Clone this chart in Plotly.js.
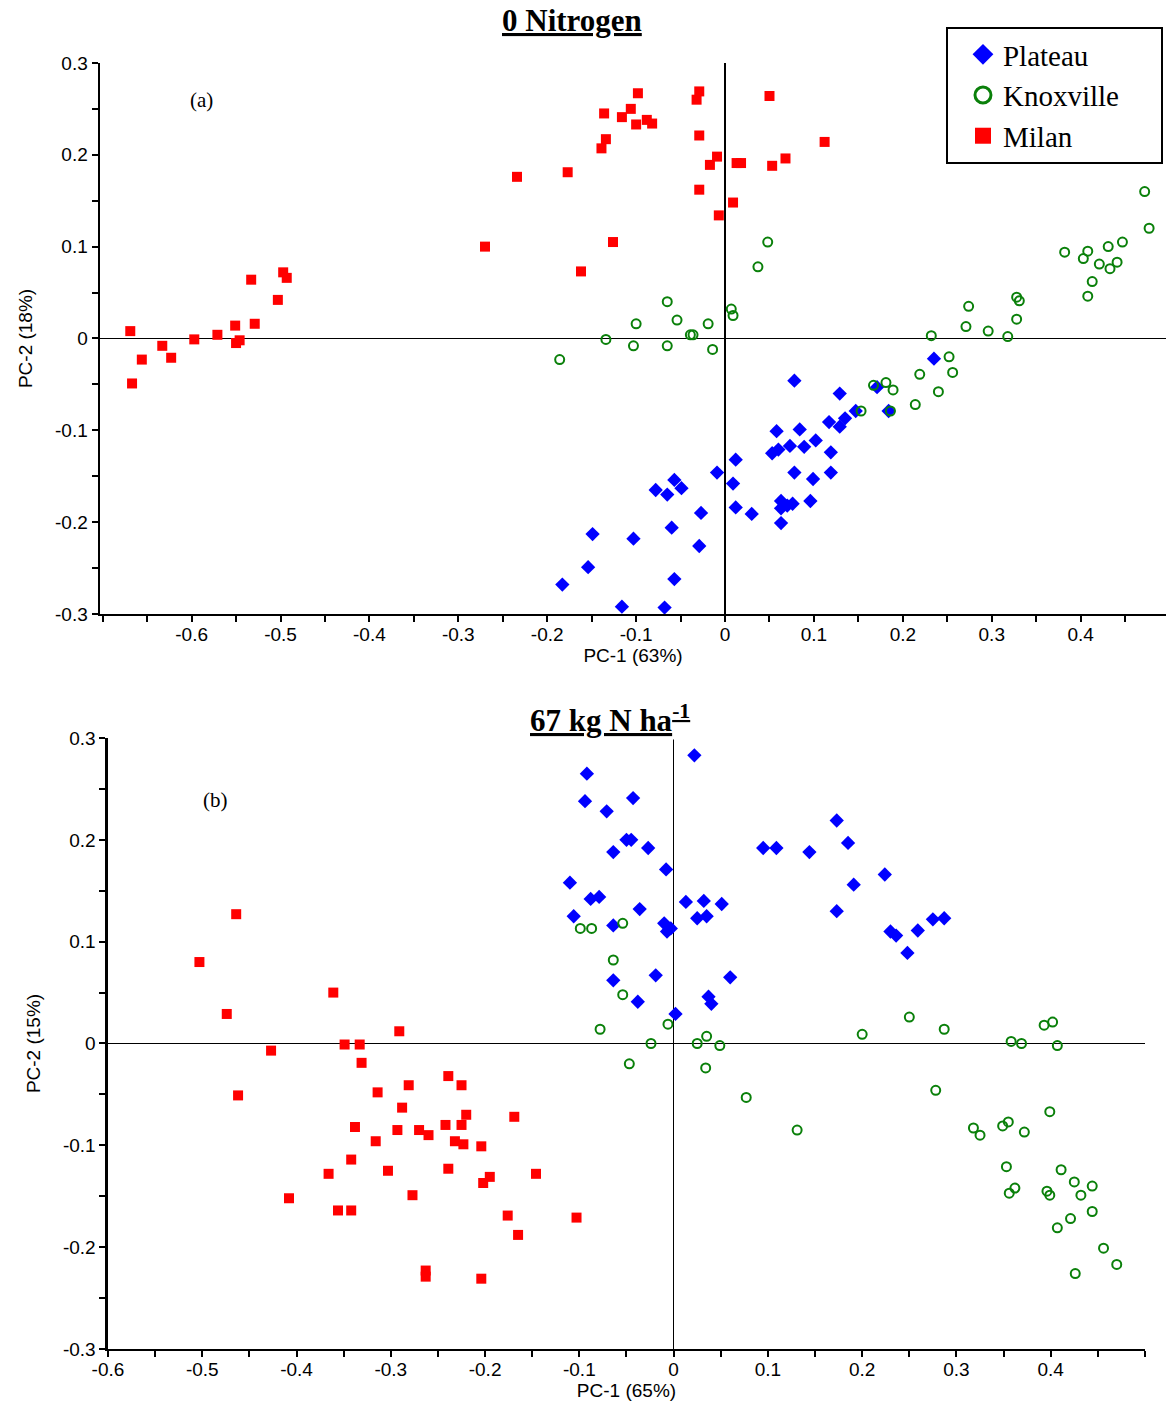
<!DOCTYPE html>
<html>
<head>
<meta charset="utf-8">
<script src="https://cdn.plot.ly/plotly-3.0.1.min.js"></script>
<style>html,body{margin:0;padding:0;background:#fff;}#chart{width:1166px;height:1405px;}</style>
</head>
<body>
<div id="chart"></div>
<script>
// ---------- Panel (a): 0 Nitrogen ----------
const a_plateau_x = [0.235,0.078,0.129,0.171,0.147,0.184,0.117,0.135,0.129,0.058,0.084,0.102,0.073,0.089,0.060,0.053,0.119,0.012,-0.009,0.009,0.078,0.099,0.119,-0.057,-0.078,-0.065,-0.049,-0.027,0.012,0.030,0.063,0.063,0.070,0.076,0.096,0.063,-0.060,-0.149,-0.103,-0.029,-0.154,-0.183,-0.057,-0.116,-0.068];
const a_plateau_y = [-0.022,-0.046,-0.060,-0.053,-0.079,-0.079,-0.091,-0.087,-0.096,-0.101,-0.099,-0.111,-0.117,-0.118,-0.121,-0.125,-0.124,-0.132,-0.146,-0.158,-0.146,-0.153,-0.146,-0.154,-0.165,-0.170,-0.163,-0.190,-0.184,-0.191,-0.177,-0.185,-0.182,-0.180,-0.177,-0.201,-0.206,-0.213,-0.218,-0.226,-0.249,-0.268,-0.262,-0.292,-0.293];

const a_knox_x = [-0.186,-0.134,-0.103,-0.100,-0.065,-0.054,-0.065,-0.039,-0.036,-0.019,-0.014,0.007,0.009,0.037,0.048,0.472,0.477,0.382,0.408,0.403,0.431,0.447,0.421,0.441,0.433,0.413,0.408,0.274,0.328,0.331,0.271,0.296,0.328,0.318,0.232,0.252,0.256,0.219,0.240,0.214,0.167,0.181,0.189,0.153,0.186];
const a_knox_y = [-0.023,-0.001,-0.008,0.016,0.040,0.020,-0.008,0.004,0.004,0.016,-0.012,0.032,0.025,0.078,0.105,0.160,0.120,0.094,0.095,0.087,0.100,0.105,0.081,0.083,0.076,0.062,0.046,0.035,0.045,0.041,0.013,0.008,0.021,0.002,0.003,-0.020,-0.037,-0.039,-0.058,-0.072,-0.051,-0.048,-0.056,-0.079,-0.079];

const a_milan_x = [-0.669,-0.656,-0.667,-0.633,-0.623,-0.597,-0.571,-0.551,-0.550,-0.546,-0.529,-0.533,-0.503,-0.497,-0.493,-0.270,-0.234,-0.177,-0.162,-0.126,-0.139,-0.134,-0.136,-0.116,-0.106,-0.098,-0.100,-0.088,-0.082,-0.029,-0.032,-0.029,-0.009,-0.017,-0.029,-0.007,0.009,0.013,0.018,0.050,0.053,0.068,0.112];
const a_milan_y = [0.008,-0.023,-0.049,-0.008,-0.021,-0.001,0.004,0.014,-0.005,-0.002,0.016,0.064,0.042,0.072,0.066,0.100,0.176,0.181,0.073,0.105,0.207,0.217,0.245,0.241,0.250,0.267,0.233,0.238,0.234,0.269,0.260,0.221,0.198,0.189,0.162,0.134,0.148,0.191,0.191,0.264,0.188,0.196,0.214];

// ---------- Panel (b): 67 kg N ha-1 ----------
const b_plateau_x = [0.022,-0.092,-0.094,-0.043,-0.071,-0.050,-0.045,-0.064,-0.027,-0.008,-0.110,-0.088,-0.079,-0.106,-0.036,-0.064,-0.010,-0.007,-0.003,0.013,0.032,0.051,0.025,0.035,0.095,0.109,0.144,0.173,0.185,0.191,0.224,0.173,0.275,0.287,0.230,0.236,0.259,0.248,-0.019,-0.064,0.060,-0.038,0.037,0.040,0.002];
const b_plateau_y = [0.283,0.265,0.238,0.241,0.228,0.200,0.200,0.188,0.192,0.171,0.158,0.142,0.144,0.125,0.132,0.116,0.118,0.110,0.113,0.139,0.140,0.137,0.123,0.125,0.192,0.192,0.188,0.219,0.197,0.156,0.166,0.130,0.122,0.123,0.110,0.106,0.111,0.089,0.067,0.062,0.065,0.041,0.046,0.039,0.029];

const b_knox_x = [-0.099,-0.087,-0.054,-0.064,-0.054,-0.078,-0.006,-0.024,0.035,0.025,0.049,-0.047,0.034,0.077,0.200,0.250,0.287,0.278,0.131,0.358,0.369,0.393,0.402,0.407,0.318,0.325,0.355,0.349,0.372,0.399,0.353,0.362,0.356,0.396,0.399,0.411,0.425,0.432,0.444,0.444,0.421,0.407,0.456,0.470,0.426];
const b_knox_y = [0.113,0.113,0.118,0.082,0.048,0.014,0.019,0.000,0.007,0.000,-0.002,-0.020,-0.024,-0.053,0.009,0.026,0.014,-0.046,-0.085,0.002,0.000,0.018,0.021,-0.002,-0.083,-0.090,-0.077,-0.081,-0.087,-0.067,-0.121,-0.142,-0.147,-0.145,-0.149,-0.124,-0.136,-0.149,-0.140,-0.165,-0.172,-0.181,-0.201,-0.217,-0.226];

const b_milan_x = [-0.503,-0.464,-0.474,-0.462,-0.361,-0.427,-0.349,-0.333,-0.291,-0.331,-0.239,-0.225,-0.281,-0.314,-0.288,-0.220,-0.169,-0.338,-0.293,-0.270,-0.260,-0.242,-0.225,-0.316,-0.232,-0.223,-0.204,-0.342,-0.366,-0.303,-0.239,-0.195,-0.202,-0.146,-0.408,-0.277,-0.356,-0.342,-0.176,-0.165,-0.103,-0.263,-0.263,-0.204];
const b_milan_y = [0.080,0.127,0.029,-0.051,0.050,-0.007,-0.001,-0.001,0.012,-0.019,-0.032,-0.041,-0.041,-0.048,-0.063,-0.070,-0.072,-0.082,-0.085,-0.085,-0.090,-0.080,-0.080,-0.096,-0.096,-0.099,-0.101,-0.114,-0.128,-0.125,-0.123,-0.131,-0.137,-0.128,-0.152,-0.149,-0.164,-0.164,-0.169,-0.188,-0.171,-0.223,-0.229,-0.231];

// ---------- tick labels (major, labelled) and minor tick positions ----------
const a_xTickVals = [-0.6,-0.5,-0.4,-0.3,-0.2,-0.1,0,0.1,0.2,0.3,0.4];
const a_xTickText = ['-0.6','-0.5','-0.4','-0.3','-0.2','-0.1','0','0.1','0.2','0.3','0.4'];
const a_xMinorVals = [-0.7,-0.65,-0.55,-0.45,-0.35,-0.25,-0.15,-0.05,0.05,0.15,0.25,0.35,0.45];
const b_xTickVals = [-0.6,-0.5,-0.4,-0.3,-0.2,-0.1,0,0.1,0.2,0.3,0.4];
const b_xTickText = ['-0.6','-0.5','-0.4','-0.3','-0.2','-0.1','0','0.1','0.2','0.3','0.4'];
const b_xMinorVals = [-0.55,-0.45,-0.35,-0.25,-0.15,-0.05,0.05,0.15,0.25,0.35,0.45,0.5];
const yTickVals = [-0.3,-0.2,-0.1,0,0.1,0.2,0.3];
const yTickText = ['-0.3','-0.2','-0.1','0','0.1','0.2','0.3'];
const yMinorVals = [-0.25,-0.15,-0.05,0.05,0.15,0.25];

const seriesNames = ['Plateau','Knoxville','Milan'];
const BLUE = '#0000ff', GREEN = '#0a800a', RED = '#ff0000';

const mk = {
  Plateau: {symbol:'diamond', size:11, color:BLUE},
  Knoxville: {symbol:'circle-open', size:9, color:GREEN, line:{color:GREEN, width:2}},
  Milan: {symbol:'square', size:10, color:RED}
};

function tr(x, y, name, xa, ya) {
  return {x:x, y:y, type:'scatter', mode:'markers', name:name, showlegend:false,
          xaxis:xa, yaxis:ya, marker:mk[name], hoverinfo:'x+y+name'};
}

const data = [
  tr(a_plateau_x, a_plateau_y, 'Plateau', 'x', 'y'),
  tr(a_knox_x, a_knox_y, 'Knoxville', 'x', 'y'),
  tr(a_milan_x, a_milan_y, 'Milan', 'x', 'y'),
  tr(b_plateau_x, b_plateau_y, 'Plateau', 'x2', 'y2'),
  tr(b_knox_x, b_knox_y, 'Knoxville', 'x2', 'y2'),
  tr(b_milan_x, b_milan_y, 'Milan', 'x2', 'y2')
];
const legMk = {
  Plateau: {symbol:'diamond', size:18, color:BLUE},
  Knoxville: {symbol:'circle-open', size:16, color:GREEN, line:{color:GREEN, width:3}},
  Milan: {symbol:'square', size:18, color:RED}
};
seriesNames.forEach(n => data.push({x:[null], y:[null], type:'scatter', mode:'markers',
  name: n === 'Knoxville' ? n + '\u00a0\u00a0\u00a0\u00a0\u00a0' : n,
  xaxis:'x', yaxis:'y', marker:legMk[n], showlegend:true, hoverinfo:'skip'}));

const tickFont = {family:'Liberation Sans, Arial, sans-serif', size:19, color:'#000'};
const titleFont = {family:'Liberation Sans, Arial, sans-serif', size:19, color:'#000'};
const minorDef = vals => ({tickmode:'array', tickvals:vals, ticks:'outside', ticklen:6, tickwidth:2, tickcolor:'#000', showgrid:false});

function xaxisDef(domain, range, vals, text, minorVals, title, anchor) {
  return {domain:domain, range:range, anchor:anchor, tickmode:'array', tickvals:vals, ticktext:text,
    minor:minorDef(minorVals), ticklabelstandoff:-4,
    ticks:'outside', ticklen:6, tickwidth:2, tickcolor:'#000', showline:true, linecolor:'#000', linewidth:2.5,
    showgrid:false, zeroline:true, zerolinecolor:'#000', zerolinewidth:1.5, tickfont:tickFont,
    title:{text:title, font:titleFont, standoff:0}, fixedrange:true};
}
function yaxisDef(domain, anchor, title) {
  return {domain:domain, range:[-0.3,0.3], anchor:anchor, tickmode:'array', tickvals:yTickVals, ticktext:yTickText,
    minor:minorDef(yMinorVals),
    ticks:'outside', ticklen:6, tickwidth:2, tickcolor:'#000', showline:true, linecolor:'#000', linewidth:2.5,
    showgrid:false, zeroline:true, zerolinecolor:'#000', zerolinewidth:1.5, tickfont:tickFont,
    title:{text:title, font:titleFont, standoff:18}, fixedrange:true};
}

const layout = {
  width:1166, height:1405,
  margin:{l:0, r:0, t:0, b:0},
  paper_bgcolor:'#fff', plot_bgcolor:'#fff',
  showlegend:true,
  xaxis: xaxisDef([0.0858, 1.0], [-0.703, 0.496], a_xTickVals, a_xTickText, a_xMinorVals, 'PC-1 (63%)', 'y'),
  yaxis: yaxisDef([0.563, 0.9552], 'x', 'PC-2 (18%)'),
  xaxis2: xaxisDef([0.0926, 0.982], [-0.6, 0.5], b_xTickVals, b_xTickText, b_xMinorVals, 'PC-1 (65%)', 'y2'),
  yaxis2: yaxisDef([0.0399, 0.4747], 'x2', 'PC-2 (15%)'),
  legend:{x:0.8113, y:0.9808, xanchor:'left', yanchor:'top', bgcolor:'#fff', bordercolor:'#000', borderwidth:2,
    font:{family:'Liberation Serif, Times New Roman, serif', size:29, color:'#000'}, itemsizing:'trace', tracegroupgap:0,
    indentation:15},
  annotations:[
    {text:'<b><u>0 Nitrogen</u></b>', xref:'paper', yref:'paper', x:0.4906, y:0.9855, xanchor:'center', yanchor:'middle', showarrow:false,
     font:{family:'Liberation Serif, Times New Roman, serif', size:31, color:'#000'}},
    {text:'<b><u>67 kg N ha<sup>-1</sup></u></b>', xref:'paper', yref:'paper', x:0.523, y:0.4886, xanchor:'center', yanchor:'middle', showarrow:false,
     bgcolor:'#fff', font:{family:'Liberation Serif, Times New Roman, serif', size:31, color:'#000'}},
    {text:'(a)', xref:'paper', yref:'paper', x:0.1732, y:0.9288, xanchor:'center', yanchor:'middle', showarrow:false,
     font:{family:'Liberation Serif, Times New Roman, serif', size:21, color:'#000'}},
    {text:'(b)', xref:'paper', yref:'paper', x:0.1844, y:0.4306, xanchor:'center', yanchor:'middle', showarrow:false,
     font:{family:'Liberation Serif, Times New Roman, serif', size:21, color:'#000'}}
  ]
};

Plotly.newPlot('chart', data, layout, {displayModeBar:false, staticPlot:true});
</script>
</body>
</html>
